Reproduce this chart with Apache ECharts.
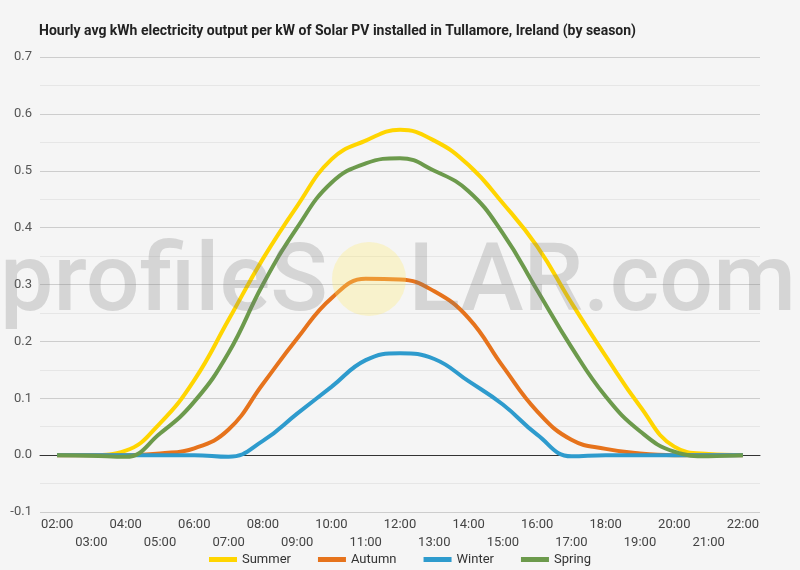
<!DOCTYPE html>
<html lang="en">
<head>
<meta charset="UTF-8">
<title>Tullamore solar PV by season</title>
<script src="https://cdn.jsdelivr.net/npm/echarts@6/dist/echarts.min.js"></script>
<style>
  html, body { margin: 0; padding: 0; background: #f5f5f5; }
  #main { width: 800px; height: 570px; }
</style>
</head>
<body>
<div id="main"></div>
<script>
// hours on the x axis
var hours = ['02:00', '03:00', '04:00', '05:00', '06:00', '07:00', '08:00', '09:00', '10:00', '11:00',
  '12:00', '13:00', '14:00', '15:00', '16:00', '17:00', '18:00', '19:00', '20:00', '21:00', '22:00'];

// average kWh per kW installed
var summer = [0, 0, 0.008, 0.056, 0.132, 0.238, 0.345, 0.438, 0.52, 0.553,
  0.572, 0.553, 0.51, 0.443, 0.367, 0.268, 0.174, 0.086, 0.015, 0.002, 0];
var autumn = [0, 0, 0, 0.003, 0.012, 0.045, 0.125, 0.205, 0.276, 0.31,
  0.309, 0.288, 0.241, 0.156, 0.077, 0.027, 0.011, 0.003, 0, 0, 0];
var winter = [0, 0, 0, 0, 0, -0.003, 0.025, 0.073, 0.12, 0.167,
  0.179, 0.169, 0.13, 0.089, 0.036, -0.002, 0, 0, 0, 0, 0];
var spring = [0, -0.001, -0.003, 0.038, 0.094, 0.18, 0.3, 0.4, 0.479, 0.513,
  0.522, 0.5, 0.464, 0.39, 0.29, 0.19, 0.103, 0.042, 0.006, -0.002, 0];

var myChart = echarts.init(document.getElementById('main'));

function line(name, data, color) {
  return {
    name: name,
    type: 'line',
    data: data,
    smooth: 0.45,
    symbol: 'none',
    lineStyle: { width: 4, color: color },
    itemStyle: { color: color }
  };
}

var markFont = '500 95px Roboto';
var markColor = 'rgba(120,120,120,0.25)';

var option = {
  backgroundColor: '#f5f5f5',
  textStyle: { fontFamily: 'Roboto' },
  title: {
    text: 'Hourly avg kWh electricity output per kW of Solar PV installed in Tullamore, Ireland (by season)',
    left: 34,
    top: 19,
    textStyle: { fontSize: 14, fontWeight: 'bold', color: '#222', fontFamily: 'Roboto' }
  },
  grid: { left: 40, right: 40, top: 57, bottom: 58 },
  legend: {
    bottom: -1,
    left: 'center',
    icon: 'rect',
    itemWidth: 28,
    itemHeight: 5,
    itemGap: 27,
    textStyle: { fontSize: 13, color: '#333' },
    data: ['Summer', 'Autumn', 'Winter', 'Spring']
  },
  xAxis: {
    type: 'category',
    data: hours,
    boundaryGap: true,
    axisTick: { show: false },
    axisLine: { onZero: true, lineStyle: { color: '#333', width: 1 } },
    axisLabel: {
      interval: 0,
      margin: 4,
      fontSize: 13,
      lineHeight: 18,
      color: '#444',
      formatter: function (v, i) { return i % 2 ? '\n' + v : v; }
    }
  },
  yAxis: {
    type: 'value',
    min: -0.1,
    max: 0.7,
    interval: 0.1,
    axisLine: { show: false },
    axisTick: { show: false },
    axisLabel: {
      margin: 8,
      fontSize: 13,
      color: '#555',
      formatter: function (v) { return v.toFixed(1); }
    },
    splitLine: { lineStyle: { color: '#cdcdcd' } },
    minorTick: { show: false, splitNumber: 2 },
    minorSplitLine: { show: true, lineStyle: { color: '#e6e6e6' } }
  },
  // profileSOLAR.com watermark, the O drawn as a pale sun
  graphic: [
    {
      type: 'text', x: 0, y: 286, z: 100,
      style: { text: 'profileS', font: markFont, fill: markColor, align: 'left', verticalAlign: 'middle' }
    },
    {
      type: 'circle', z: 99,
      shape: { cx: 369, cy: 279, r: 37 },
      style: { fill: 'rgba(255,235,110,0.3)' }
    },
    {
      type: 'text', x: 796, y: 286, z: 100,
      style: { text: 'LAR.com', font: markFont, fill: markColor, align: 'right', verticalAlign: 'middle' }
    }
  ],
  series: [
    line('Summer', summer, '#ffd500'),
    line('Autumn', autumn, '#e6731c'),
    line('Winter', winter, '#2e9bcd'),
    line('Spring', spring, '#6c9a4c')
  ]
};

myChart.setOption(option);
</script>
</body>
</html>
